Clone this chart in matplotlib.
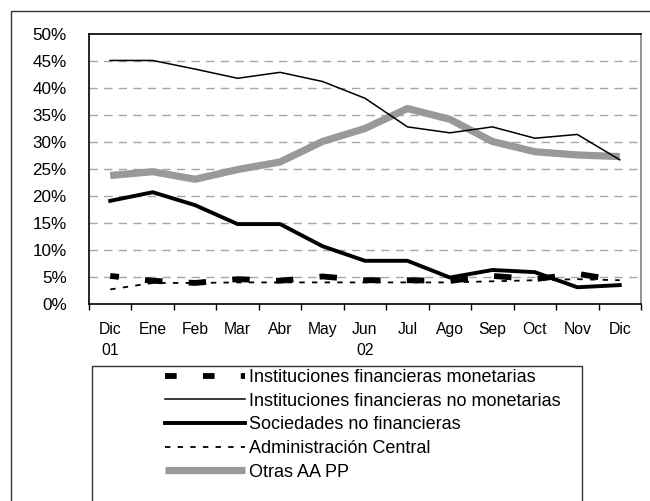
import matplotlib
matplotlib.use("Agg")
import matplotlib.pyplot as plt
from matplotlib.lines import Line2D
from matplotlib.patches import Rectangle
import numpy as np

plt.rcParams['font.family'] = ['Liberation Sans', 'DejaVu Sans']

categories = ["Dic\n01", "Ene", "Feb", "Mar", "Abr", "May", "Jun\n02", "Jul", "Ago", "Sep", "Oct", "Nov", "Dic"]
ifm = [5.2, 4.3, 3.9, 4.6, 4.3, 5.1, 4.4, 4.4, 4.3, 5.2, 4.6, 5.6, 4.3]
ifnm = [45.1, 45.1, 43.5, 41.8, 42.9, 41.2, 38.1, 32.8, 31.7, 32.8, 30.7, 31.4, 26.7]
snf = [19.1, 20.7, 18.3, 14.8, 14.8, 10.7, 8.0, 8.0, 4.9, 6.3, 5.9, 3.1, 3.5]
admin = [2.7, 3.9, 3.9, 4.0, 4.0, 4.0, 4.0, 4.0, 4.0, 4.2, 4.4, 4.6, 4.4]
otras = [23.8, 24.5, 23.1, 24.9, 26.3, 30.1, 32.5, 36.2, 34.2, 30.1, 28.2, 27.6, 27.3]
labels = ["Instituciones financieras monetarias",
          "Instituciones financieras no monetarias",
          "Sociedades no financieras",
          "Administración Central",
          "Otras AA PP"]
yticks = [0, 5, 10, 15, 20, 25, 30, 35, 40, 45, 50]

W, H = 650, 501
fig = plt.figure(figsize=(W / 100, H / 100), dpi=100)
ax = fig.add_axes([89 / W, 1 - 304 / H, (641 - 89) / W, (304 - 34) / H])

x = np.arange(len(categories))
gray = '#999999'
ax.plot(x, otras, color=gray, lw=5.2, solid_capstyle='butt', zorder=3)
ax.plot(x, ifnm, color='black', lw=1.1, zorder=4)
ax.plot(x, snf, color='black', lw=2.8, zorder=4)
ax.plot(x, admin, color='black', lw=1.3, linestyle=(0, (3.0, 4.0)), zorder=4)
ax.plot(x, ifm, color='black', lw=4.2, linestyle=(1.5, (3.0, 4.5)),
        solid_capstyle='butt', dash_capstyle='butt', zorder=5)

ax.set_xlim(-0.5, len(categories) - 0.5)
ax.set_ylim(0, 50)
ax.set_yticks(yticks)
ax.set_yticklabels([f"{v}%" for v in yticks], fontsize=12.3)
ax.tick_params(axis='y', length=0, pad=16)
for v in yticks[1:-1]:
    ax.axhline(v, color='#a6a6a6', lw=1.0, linestyle=(0, (6, 4.5)), zorder=1)

ax.set_xticks(x)
ax.set_xticklabels(categories, fontsize=11.3, linespacing=1.5)
ax.tick_params(axis='x', which='major', length=0, pad=13)
ax.set_xticks(np.arange(-0.5, len(categories), 1), minor=True)
ax.tick_params(axis='x', which='minor', length=4, width=1, direction='out')

for s in ['left', 'bottom', 'top']:
    ax.spines[s].set_color('black')
    ax.spines[s].set_linewidth(1.2)
ax.spines['right'].set_color('#808080')
ax.spines['right'].set_linewidth(1.2)

# outer frame
fig.patches.append(Rectangle((11 / W, -0.01), 1.02, 1 - 11 / H + 0.01, transform=fig.transFigure,
                             fill=False, edgecolor='#333333', lw=1.0))
# legend frame
fig.patches.append(Rectangle((92 / W, -0.01), (582 - 92) / W, 1 - 366 / H + 0.01,
                             transform=fig.transFigure, fill=False, edgecolor='#333333', lw=1.0))

handles = [
    Line2D([], [], color='black', lw=4.2, linestyle=(0, (2.0, 4.5)), dash_capstyle='butt'),
    Line2D([], [], color='black', lw=1.1),
    Line2D([], [], color='black', lw=2.8),
    Line2D([], [], color='black', lw=1.3, linestyle=(0, (3.0, 4.0))),
    Line2D([], [], color=gray, lw=5.2, solid_capstyle='butt'),
]
fig.legend(handles, labels, loc='upper left', bbox_to_anchor=(165 / W, 1 - 369 / H),
           frameon=False, fontsize=13, handlelength=4.43, handletextpad=0.22,
           labelspacing=0.37, borderpad=0, borderaxespad=0)

fig.savefig("out.png", dpi=100)
